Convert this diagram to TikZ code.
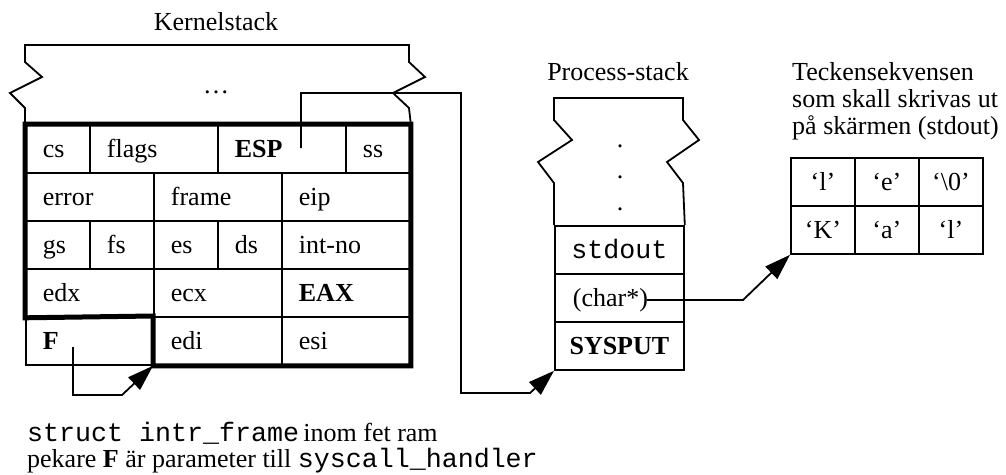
\documentclass[tikz,border=0pt]{standalone}
\usepackage{fontspec}
\setmainfont{Liberation Serif}
\setmonofont[Scale=1.025]{Liberation Mono}
\usetikzlibrary{arrows.meta}

\begin{document}
\begin{tikzpicture}[x=1pt, y=-1pt, font={\fontsize{26}{27}\selectfont},
  thinline/.style={line width=1.8pt},
  kone/.style={draw, thinline, anchor=north west, minimum height=48pt, minimum width=64pt, text width=30pt, inner xsep=17pt, align=left, text height=22pt, text depth=4pt},
  ktwo/.style={kone, minimum width=128pt, text width=94pt},
  pcell/.style={draw, thinline, anchor=north west, minimum height=48pt, inner xsep=14pt, text width=101pt, align=center, text height=22pt, text depth=4pt},
  ccell/.style={draw, thinline, anchor=north west, minimum height=48pt, minimum width=64pt, inner sep=0pt, text height=22pt, text depth=4pt},
  ptr/.style={thinline, -{Triangle[length=26pt, width=17pt]}}]
\useasboundingbox (0,0) rectangle (1006,474);
\node[anchor=base] (ktitle) at (216,30) {Kernelstack};
\node[anchor=base] (ptitle) at (618,80) {Process-stack};
\node[anchor=north west, align=left, inner sep=0pt] (ctitle) at (792,62) {Teckensekvensen\\som skall skrivas ut\\på skärmen (stdout)};
\node[kone] (cs) at (25,124) {cs};
\node[ktwo] (flags) at (89,124) {flags};
\node[ktwo] (esp) at (217,124) {\textbf{ESP}};
\node[kone] (ss) at (345,124) {ss};
\node[ktwo] (error) at (25,172) {error};
\node[ktwo] (frame) at (153,172) {frame};
\node[ktwo] (eip) at (281,172) {eip};
\node[kone] (gs) at (25,220) {gs};
\node[kone] (fs) at (89,220) {fs};
\node[kone] (es) at (153,220) {es};
\node[kone] (ds) at (217,220) {ds};
\node[ktwo] (intno) at (281,220) {int-no};
\node[ktwo] (edx) at (25,268) {edx};
\node[ktwo] (ecx) at (153,268) {ecx};
\node[ktwo] (eax) at (281,268) {\textbf{EAX}};
\node[ktwo] (fcell) at (25,316) {\textbf{F}};
\node[ktwo] (edi) at (153,316) {edi};
\node[ktwo] (esi) at (281,316) {esi};
\draw[line width=5pt] (cs.north west) -- (ss.north east) -- (esi.south east) -- (edi.south west) -- (edi.north west) -- (edx.south west) -- cycle;
\draw[thinline] (cs.north west) -- (25,108) -- (10,93) -- (42,77) -- (25,62) -- (25,45) -- (409,45) -- (409,62) -- (425,77) -- (393,93) -- (409,108) -- (ss.north east);
\node[anchor=base] (kdots) at (216,93) {\dots};
\node[pcell] (stdout) at (554,225) {\texttt{stdout}};
\node[pcell, align=left, inner xsep=18pt, text width=93pt] (charp) at (554,273) {(char*)};
\node[pcell] (sysput) at (554,321) {\textbf{SYSPUT}};
\draw[thinline] (stdout.north west) -- (554,183) -- (538,162) -- (572,140) -- (554,120) -- (554,98) -- (683,98) -- (683,120) -- (699,140) -- (667,162) -- (683,183) -- (stdout.north east);
\node[anchor=base] (pdot1) at (620,147) {.};
\node[anchor=base] (pdot2) at (620,178) {.};
\node[anchor=base] (pdot3) at (620,210) {.};
\node[ccell] (cl1) at (790,157) {`l'};
\node[ccell] (ce) at (854,157) {`e'};
\node[ccell] (cnul) at (918,157) {`\textbackslash 0'};
\node[ccell] (cK) at (790,205) {`K'};
\node[ccell] (ca) at (854,205) {`a'};
\node[ccell] (cl2) at (918,205) {`l'};
\coordinate (espsrc) at (301,148);
\coordinate (fsrc) at (73,347);
\coordinate (charsrc) at (647,300);
\draw[ptr] (espsrc) |- (461,93) -- (461,393) -- (530,393) -- (sysput.south west);
\draw[ptr] (fsrc) -- (73,395) -- (122,395) -- (edi.south west);
\draw[ptr] (charsrc) -- (743,300) -- (cK.south west);
\node[anchor=base west, inner sep=0pt] (cap1) at (27,441) {\texttt{struct intr\_frame}\,inom fet ram};
\node[anchor=base west, inner sep=0pt] (cap2) at (27,467) {pekare \textbf{F} är parameter till \texttt{syscall\_handler}};
\end{tikzpicture}
\end{document}
